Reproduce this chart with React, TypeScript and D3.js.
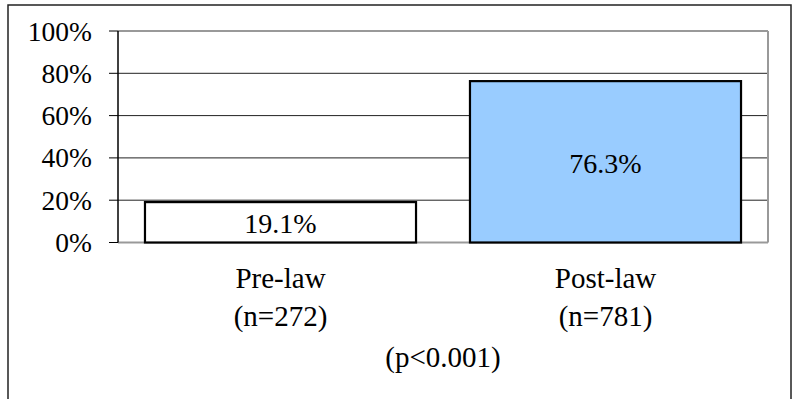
import React from "react";
import * as d3 from "d3";

const categories = ["Pre-law", "Post-law"];
const sampleLabels = ["(n=272)", "(n=781)"];
const values = [0.191, 0.763];
const valueLabels = ["19.1%", "76.3%"];
const barColors = ["#ffffff", "#99ccff"];
const yTicks = [0, 0.2, 0.4, 0.6, 0.8, 1.0];
const pLabel = "(p<0.001)";

const W = 794;
const H = 399;
const plot = { left: 118, right: 768, top: 31, bottom: 242.5 };

function T(props: { x: number; y: number; anchor: string; size: number; children: React.ReactNode }) {
  return (
    <text
      x={props.x}
      y={props.y}
      textAnchor={props.anchor}
      fontFamily="Liberation Serif"
      fontSize={props.size}
      style={{ fontFamily: "Liberation Serif", fontSize: props.size }}
      fill="#000"
    >
      {props.children}
    </text>
  );
}

export default function App() {
  const x = d3
    .scaleBand<string>()
    .domain(categories)
    .range([plot.left, plot.right])
    .paddingInner(0.166)
    .paddingOuter(0.083);
  const y = d3.scaleLinear().domain([0, 1]).range([plot.bottom, plot.top]);
  const fmt = d3.format(".0%");

  return (
    <div style={{ position: "fixed", left: 0, top: 0 }}>
      <svg width={W} height={H} style={{ display: "block" }}>
        <rect x={0} y={0} width={W} height={H} fill="#ffffff" />
        <rect x={8} y={5} width={783} height={H + 10} fill="#ffffff" stroke="#222" strokeWidth={1.5} />

        {yTicks
          .filter((t) => t > 0 && t < 1)
          .map((t) => (
            <line key={"g" + t} x1={plot.left} x2={plot.right} y1={y(t)} y2={y(t)} stroke="#222" strokeWidth={1} />
          ))}

        <line x1={plot.left} x2={plot.right} y1={plot.top} y2={plot.top} stroke="#999" strokeWidth={2} />
        <line x1={plot.right} x2={plot.right} y1={plot.top} y2={plot.bottom} stroke="#999" strokeWidth={2} />
        <line x1={plot.left} x2={plot.right} y1={plot.bottom} y2={plot.bottom} stroke="#999" strokeWidth={2} />

        {categories.map((c, i) => (
          <rect
            key={c}
            x={x(c)}
            y={y(values[i])}
            width={x.bandwidth()}
            height={plot.bottom - y(values[i])}
            fill={barColors[i]}
            stroke="#000"
            strokeWidth={2.2}
          />
        ))}

        {categories.map((c, i) => (
          <T
            key={"v" + c}
            x={(x(c) as number) + x.bandwidth() / 2}
            y={(y(values[i]) + plot.bottom) / 2 + 11}
            anchor="middle"
            size={28}
          >
            {valueLabels[i]}
          </T>
        ))}

        <line x1={plot.left} x2={plot.left} y1={plot.top} y2={plot.bottom} stroke="#000" strokeWidth={1.5} />
        {yTicks.map((t) => (
          <g key={"t" + t}>
            <line x1={plot.left - 9} x2={plot.left} y1={y(t)} y2={y(t)} stroke="#000" strokeWidth={1} />
            <T x={92} y={y(t) + 9.5} anchor="end" size={27.5}>
              {fmt(t)}
            </T>
          </g>
        ))}

        {categories.map((c, i) => {
          const cx = (x(c) as number) + x.bandwidth() / 2;
          return (
            <g key={"c" + c}>
              <T x={cx} y={288} anchor="middle" size={29}>
                {c}
              </T>
              <T x={cx} y={326} anchor="middle" size={29}>
                {sampleLabels[i]}
              </T>
            </g>
          );
        })}

        <T x={443} y={367} anchor="middle" size={29}>
          {pLabel}
        </T>
      </svg>
    </div>
  );
}
